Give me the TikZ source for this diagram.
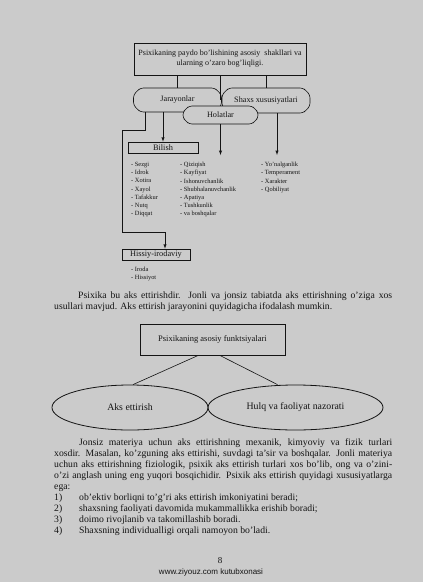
\documentclass[tikz,border=0pt]{standalone}
\usepackage{fontspec}
\setmainfont{Liberation Serif}
\newfontfamily\sitefont{Liberation Sans}
\usetikzlibrary{arrows,calc,positioning,shapes.geometric,shapes.misc}
\definecolor{paper}{RGB}{203,203,203}
\definecolor{ink}{RGB}{20,20,20}
\tikzset{
        block/.style = {draw, rectangle, line width=0.8pt, inner sep=0pt,
            align=center},
        hexa/.style = {draw, chamfered rectangle,
            chamfered rectangle xsep=6pt, rounded corners=3pt, fill=paper, inner sep=0pt,
            line width=0.6pt, font=\fontsize{8.2}{9}\selectfont},
        arrow/.style = {draw, -latex, line width=0.55pt},
        listing/.style = {anchor=north west, inner sep=0pt, align=left,
            font=\fontsize{6.4}{8.2}\selectfont},
        textline/.style = {anchor=base west, inner sep=0pt,
            font=\fontsize{9.7}{11}\selectfont},
        oval/.style = {draw, ellipse, line width=0.8pt, inner sep=0pt,
            font=\fontsize{9.8}{11}\selectfont},
    }

\begin{document}
\begin{tikzpicture}[x=1pt,y=-1pt,color=ink]
    % page
    \fill[paper] (0,0) rectangle (423,582);
    \useasboundingbox (0,0) rectangle (423,582);

    % first scheme
    \node[block, minimum width=172, minimum height=32, font=\fontsize{8}{10}\selectfont] (top) at (220,59)
        {Psixikaning paydo bo'lishining asosiy\ \ shakllari va\\ularning o'zaro bog'liqligi.};
    \node[hexa, minimum width=88, minimum height=24] (jar) at (177.5,100) {Jarayonlar};
    \node[hexa, minimum width=88, minimum height=25] (shx) at (266,100.5) {Shaxs xususiyatlari};
    \draw (top.south -| jar.north) -- (jar.north);
    \draw (top.south -| shx.north) -- (shx.north);
    \draw (top.south) -- (top.south |- jar.east);
    \node[hexa, minimum width=75, minimum height=18] (hol) at (220.5,115) {Holatlar};

    \node[block, line width=0.6pt, minimum width=70, minimum height=11, font=\fontsize{8.3}{9}\selectfont] (bil) at (163,147.5) {Bilish};
    \node[block, line width=0.6pt, minimum width=68, minimum height=11, font=\fontsize{8.3}{9}\selectfont] (his) at (156,254.5) {Hissiy-irodaviy};

    \coordinate (bend) at (122,130);
    \coordinate (fold) at (122,232);
    \coordinate (hend) at (220.5,155);
    \coordinate (send) at (277,155);
    \draw[arrow] ([xshift=-14.5]jar.south) -- (bil.north);
    \draw[arrow] ([xshift=-32.5]jar.south) |- (bend) -- (fold) -| ([xshift=9]his.north);
    \draw[arrow] (hol.south) -- (hend);
    \draw[arrow] ([xshift=11]shx.south) -- (send);

    % lists
    \node[listing] (bilist) at (131,162) {- Sezgi\\- Idrok\\- Xotira\\- Xayol\\- Tafakkur\\- Nutq\\- Diqqat};
    \node[listing] (hollist) at (180,162) {- Qiziqish\\- Kayfiyat\\- Ishonuvchanlik\\- Shubhalanuvchanlik\\- Apatiya\\- Tushkunlik\\- va boshqalar};
    \node[listing] (shxlist) at (261,162) {- Yo'nalganlik\\- Temperament\\- Xarakter\\- Qobiliyat};
    \node[listing] (hislist) at (131,267) {- Iroda\\- Hissiyot};

    % paragraph
    \node[textline] (pa) at (78,298) {\makebox[314pt][s]{Psixika bu aks ettirishdir. Jonli va jonsiz tabiatda aks ettirishning o'ziga xos}};
    \node[textline] (pb) at (54,309.5) {usullari mavjud. Aks ettirish jarayonini quyidagicha ifodalash mumkin.};

    % second scheme
    \node[block, line width=1pt, minimum width=145, minimum height=31, font=\fontsize{8.5}{10}\selectfont] (fun) at (212.5,339.5) {Psixikaning asosiy funktsiyalari};
    \node[oval, minimum width=156, minimum height=45] (aks) at (130,407.5) {Aks ettirish};
    \node[oval, minimum width=175, minimum height=45] (hul) at (295.5,407.5) {Hulq va faoliyat nazorati};
    \draw[line width=0.6pt] ([xshift=-14.5]fun.south) -- ([xshift=3]aks.north);
    \draw[line width=0.6pt] ([xshift=7.5]fun.south) -- ([xshift=-18]hul.north);

    % paragraph
    \node[textline] (qa) at (79,445) {\makebox[313pt][s]{Jonsiz materiya uchun aks ettirishning mexanik, kimyoviy va fizik turlari}};
    \node[textline] (qb) at (54,456) {\makebox[338pt][s]{xosdir. Masalan, ko'zguning aks ettirishi, suvdagi ta'sir va boshqalar. Jonli materiya}};
    \node[textline] (qc) at (54,467) {\makebox[338pt][s]{uchun aks ettirishning fiziologik, psixik aks ettirish turlari xos bo'lib, ong va o'zini-}};
    \node[textline] (qd) at (54,478) {\makebox[338pt][s]{o'zi anglash uning eng yuqori bosqichidir. Psixik aks ettirish quyidagi xususiyatlarga}};
    \node[textline] (qe) at (54,489) {ega:};
    \node[textline] (n1) at (54,500) {1)};
    \node[textline] (i1) at (79,500) {ob'ektiv borliqni to'g'ri aks ettirish imkoniyatini beradi;};
    \node[textline] (n2) at (54,511) {2)};
    \node[textline] (i2) at (79,511) {shaxsning faoliyati davomida mukammallikka erishib boradi;};
    \node[textline] (n3) at (54,522) {3)};
    \node[textline] (i3) at (79,522) {doimo rivojlanib va takomillashib boradi.};
    \node[textline] (n4) at (54,533) {4)};
    \node[textline] (i4) at (79,533) {Shaxsning individualligi orqali namoyon bo'ladi.};

    % footer
    \node[anchor=base, inner sep=0pt, font=\fontsize{9}{10}\selectfont] (pnum) at (220,563) {8};
    \node[anchor=base, inner sep=0pt, font=\sitefont\fontsize{8}{9}\selectfont] (site) at (211,574) {www.ziyouz.com kutubxonasi};
\end{tikzpicture}
\end{document}
